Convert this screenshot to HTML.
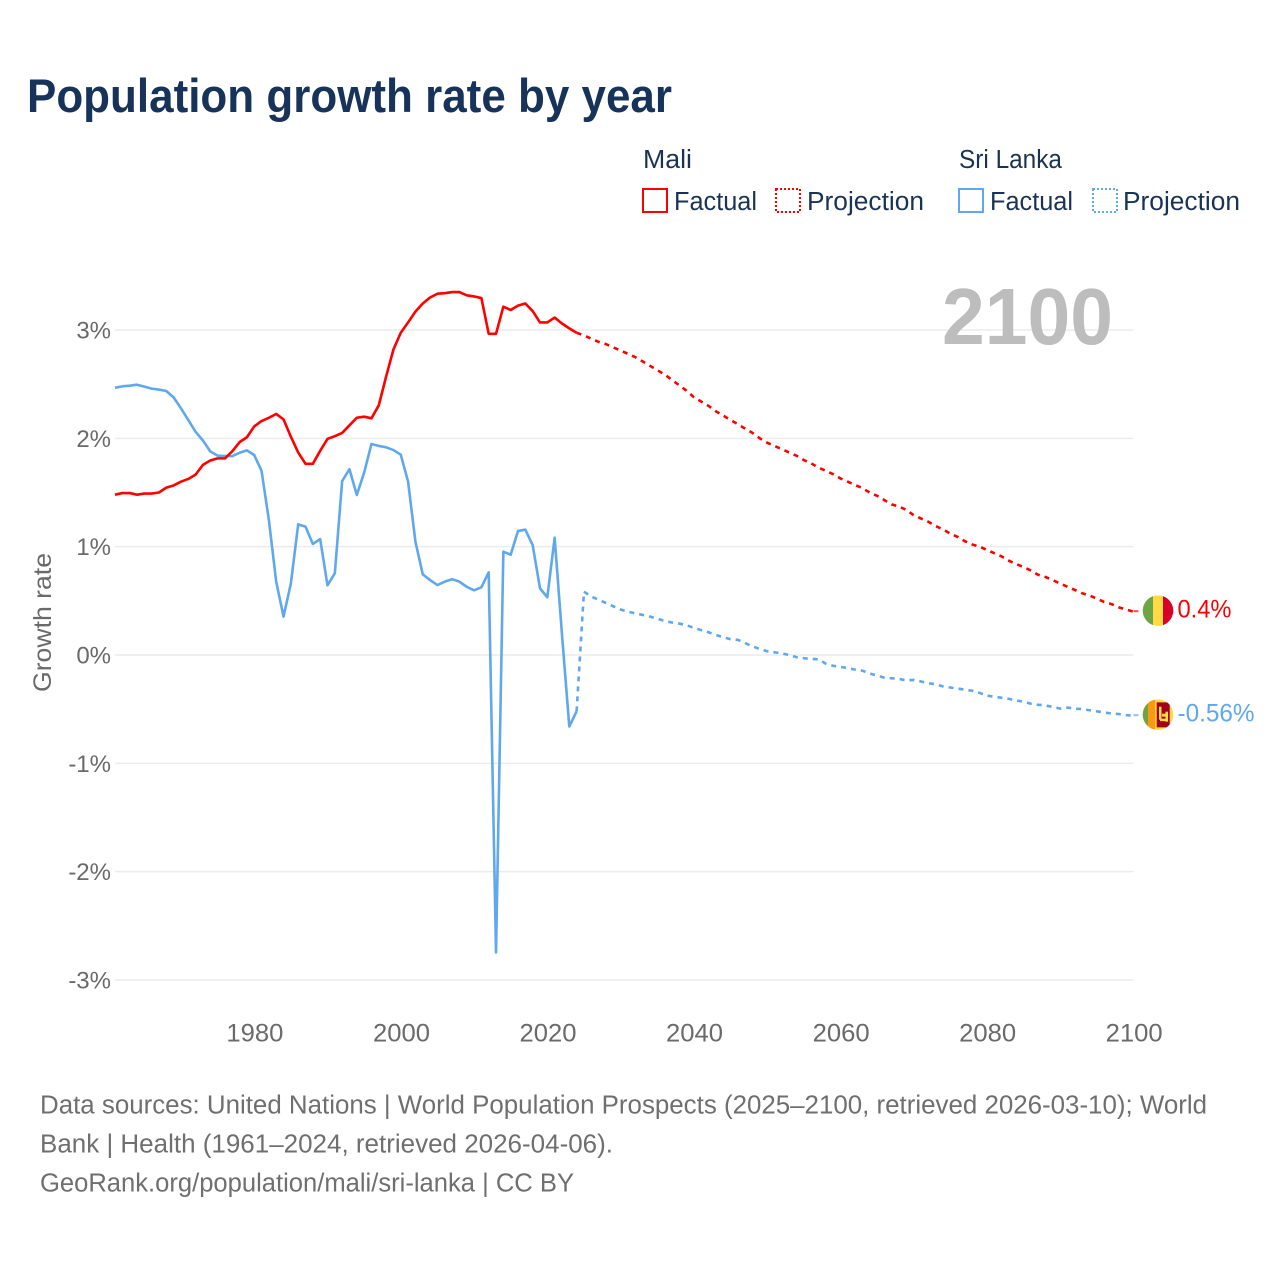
<!DOCTYPE html>
<html lang="en">
<head>
<meta charset="utf-8">
<title>Population growth rate by year</title>
<style>
  html, body { margin: 0; padding: 0; background: #fff; width: 1280px; height: 1280px; overflow: hidden; }
  svg { display: block; font-family: "Liberation Sans", Arial, sans-serif; }
  .legend-text { font-size: 25.5px; fill: #1a3354; }
  .foot { font-size: 25.5px; fill: #6f6f6f; }
  .tick { font-size: 24px; fill: #6a6a6a; }
</style>
</head>
<body>
<svg id="chart" xmlns="http://www.w3.org/2000/svg" width="1280" height="1280" viewBox="0 0 1280 1280">
  <defs>
    <clipPath id="flag-clip"><circle cx="0" cy="0" r="15.3"></circle></clipPath>
  </defs>
  <rect x="0" y="0" width="1280" height="1280" fill="#ffffff"></rect>
  <text x="27" y="112" font-size="47" font-weight="700" fill="#18335a" textLength="645" lengthAdjust="spacingAndGlyphs">Population growth rate by year</text>

  <g>
    <text class="legend-text" x="643" y="168" textLength="49" lengthAdjust="spacingAndGlyphs">Mali</text>
    <rect x="643" y="189" width="24" height="23" fill="none" stroke="#ff0000" stroke-width="2"></rect>
    <text class="legend-text" x="674" y="210" textLength="83" lengthAdjust="spacingAndGlyphs">Factual</text>
    <rect x="776" y="189" width="24" height="23" fill="none" stroke="#ff0000" stroke-width="2" stroke-dasharray="2 2"></rect>
    <text class="legend-text" x="807" y="210" textLength="117" lengthAdjust="spacingAndGlyphs">Projection</text>
    <text class="legend-text" x="959" y="168" textLength="103" lengthAdjust="spacingAndGlyphs">Sri Lanka</text>
    <rect x="959" y="189" width="24" height="23" fill="none" stroke="#5fa8ee" stroke-width="2"></rect>
    <text class="legend-text" x="990" y="210" textLength="83" lengthAdjust="spacingAndGlyphs">Factual</text>
    <rect x="1093" y="189" width="24" height="23" fill="none" stroke="#5fa8ee" stroke-width="2" stroke-dasharray="2 2"></rect>
    <text class="legend-text" x="1123" y="210" textLength="117" lengthAdjust="spacingAndGlyphs">Projection</text>
  </g>

  <g id="grid"></g>
  <g id="y-ticks"></g>
  <g id="x-ticks"></g>

  <text transform="translate(51,692) rotate(-90)" font-size="25" fill="#6a6a6a" textLength="139" lengthAdjust="spacingAndGlyphs">Growth rate</text>
  <text x="942" y="344" font-size="80" font-weight="700" fill="#bdbdbd" textLength="171" lengthAdjust="spacingAndGlyphs">2100</text>

  <g id="series"></g>

  <g id="flag-mali">
    <g clip-path="url(#flag-clip)">
      <rect x="-16" y="-16" width="11" height="32" fill="#6da544"></rect>
      <rect x="-5" y="-16" width="10" height="32" fill="#ffda44"></rect>
      <rect x="5" y="-16" width="11" height="32" fill="#d80027"></rect>
    </g>
  </g>
  <g id="flag-sri-lanka">
    <g clip-path="url(#flag-clip)">
      <rect x="-16" y="-16" width="32" height="32" fill="#ffda44"></rect>
      <rect x="-16" y="-16" width="6" height="32" fill="#6da544"></rect>
      <rect x="-10" y="-16" width="7" height="32" fill="#ff9811"></rect>
      <rect x="-1.3" y="-12.3" width="13" height="25" fill="#a2001d"></rect>
      <rect x="1" y="-8" width="2.5" height="13" fill="#ffda44"></rect>
      <rect x="2" y="4" width="7" height="2.5" fill="#ffda44"></rect>
      <rect x="4" y="-1" width="6" height="3" fill="#ffda44"></rect>
      <rect x="7.5" y="-3" width="2.5" height="10" fill="#ffda44"></rect>
    </g>
  </g>
  <g id="end-labels"></g>

  <g>
    <text class="foot" x="40" y="1113.5" textLength="1167" lengthAdjust="spacingAndGlyphs">Data sources: United Nations | World Population Prospects (2025–2100, retrieved 2026-03-10); World</text>
    <text class="foot" x="40" y="1152.5" textLength="573" lengthAdjust="spacingAndGlyphs">Bank | Health (1961–2024, retrieved 2026-04-06).</text>
    <text class="foot" x="40" y="1191.5" textLength="534" lengthAdjust="spacingAndGlyphs">GeoRank.org/population/mali/sri-lanka | CC BY</text>
  </g>
</svg>

<script>
const yTickValues = [3, 2, 1, 0, -1, -2, -3];
const yTickLabels = ["3%", "2%", "1%", "0%", "-1%", "-2%", "-3%"];
const xTickValues = [1980, 2000, 2020, 2040, 2060, 2080, 2100];
const xTickLabels = ["1980", "2000", "2020", "2040", "2060", "2080", "2100"];

const factualYears = [1961,1962,1963,1964,1965,1966,1967,1968,1969,1970,1971,1972,1973,1974,1975,1976,1977,1978,1979,1980,1981,1982,1983,1984,1985,1986,1987,1988,1989,1990,1991,1992,1993,1994,1995,1996,1997,1998,1999,2000,2001,2002,2003,2004,2005,2006,2007,2008,2009,2010,2011,2012,2013,2014,2015,2016,2017,2018,2019,2020,2021,2022,2023,2024];
const projectionYears = [2024,2025,2026,2027,2028,2029,2030,2031,2032,2033,2034,2035,2036,2037,2038,2039,2040,2041,2042,2043,2044,2045,2046,2047,2048,2049,2050,2051,2052,2053,2054,2055,2056,2057,2058,2059,2060,2061,2062,2063,2064,2065,2066,2067,2068,2069,2070,2071,2072,2073,2074,2075,2076,2077,2078,2079,2080,2081,2082,2083,2084,2085,2086,2087,2088,2089,2090,2091,2092,2093,2094,2095,2096,2097,2098,2099,2100];

const maliFactual = [1.48,1.495,1.495,1.48,1.49,1.49,1.50,1.545,1.565,1.60,1.625,1.665,1.755,1.795,1.815,1.815,1.88,1.965,2.01,2.11,2.16,2.19,2.225,2.175,2.015,1.87,1.765,1.765,1.885,1.995,2.02,2.05,2.12,2.19,2.20,2.185,2.305,2.57,2.82,2.975,3.07,3.17,3.245,3.30,3.335,3.34,3.35,3.35,3.32,3.31,3.295,2.965,2.965,3.215,3.185,3.225,3.245,3.175,3.07,3.07,3.115,3.06,3.015,2.975];
const maliProjection = [2.975,2.95,2.92,2.89,2.87,2.84,2.81,2.78,2.75,2.71,2.67,2.63,2.59,2.54,2.49,2.44,2.38,2.34,2.30,2.25,2.21,2.17,2.13,2.09,2.05,2.00,1.96,1.93,1.90,1.87,1.84,1.80,1.77,1.73,1.70,1.67,1.63,1.60,1.57,1.54,1.50,1.47,1.43,1.39,1.37,1.34,1.29,1.26,1.23,1.19,1.16,1.12,1.09,1.05,1.02,1.00,0.97,0.94,0.91,0.87,0.84,0.81,0.78,0.74,0.72,0.69,0.66,0.63,0.60,0.57,0.55,0.52,0.49,0.47,0.44,0.42,0.40];

const sriLankaFactual = [2.467,2.48,2.486,2.495,2.477,2.459,2.45,2.437,2.378,2.277,2.17,2.06,1.98,1.88,1.84,1.837,1.835,1.867,1.889,1.846,1.70,1.246,0.677,0.354,0.66,1.206,1.185,1.025,1.07,0.643,0.754,1.606,1.715,1.477,1.683,1.948,1.93,1.917,1.892,1.849,1.60,1.046,0.745,0.692,0.646,0.677,0.70,0.677,0.63,0.597,0.625,0.763,-2.745,0.954,0.926,1.145,1.157,1.015,0.615,0.533,1.083,0.19,-0.66,-0.52];
const sriLankaProjection = [-0.52,0.585,0.54,0.51,0.48,0.45,0.42,0.40,0.385,0.37,0.355,0.335,0.315,0.30,0.29,0.275,0.25,0.23,0.21,0.185,0.165,0.145,0.14,0.11,0.08,0.055,0.035,0.025,0.015,0.0,-0.02,-0.03,-0.035,-0.04,-0.08,-0.10,-0.11,-0.12,-0.135,-0.145,-0.17,-0.19,-0.21,-0.215,-0.22,-0.235,-0.23,-0.245,-0.26,-0.27,-0.29,-0.30,-0.31,-0.32,-0.33,-0.35,-0.375,-0.385,-0.395,-0.405,-0.42,-0.43,-0.45,-0.46,-0.465,-0.48,-0.495,-0.485,-0.495,-0.50,-0.51,-0.52,-0.53,-0.54,-0.545,-0.555,-0.56];

const endLabelMali = "0.4%";
const endLabelSriLanka = "-0.56%";

const NS = "http://www.w3.org/2000/svg";
const RED = "#ff0000";
const BLUE = "#5fa8ee";
function xScale(year) { return 115 + (year - 1961) * (1133.5 - 115) / 139; }
function yScale(value) { return 655 - value * 108.33; }
function pathFrom(years, values) {
  return values.map(function (v, i) {
    return (i ? "L" : "M") + xScale(years[i]).toFixed(2) + " " + yScale(v).toFixed(2);
  }).join("");
}
function node(tag, parent) {
  const el = document.createElementNS(NS, tag);
  document.getElementById(parent).appendChild(el);
  return el;
}

yTickValues.forEach(function (v, i) {
  const line = node("line", "grid");
  
  
  line.setAttribute("x1", 115);
  line.setAttribute("x2", xScale(2100));
  line.setAttribute("y1", yScale(v));
  line.setAttribute("y2", yScale(v));
  line.setAttribute("stroke", "#ececec");
  line.setAttribute("stroke-width", 1.5);

  const label = node("text", "y-ticks");
  
  
  label.setAttribute("class", "tick");
  label.setAttribute("x", 111);
  label.setAttribute("y", yScale(v) + 8.5);
  label.setAttribute("text-anchor", "end");
  label.textContent = yTickLabels[i];
});

xTickValues.forEach(function (v, i) {
  const label = node("text", "x-ticks");
  
  
  label.setAttribute("class", "tick");
  label.setAttribute("x", xScale(v) + 0.7);
  label.setAttribute("y", 1041.5);
  label.setAttribute("text-anchor", "middle");
  label.setAttribute("textLength", "57");
  label.setAttribute("lengthAdjust", "spacingAndGlyphs");
  label.setAttribute("style", "font-size:25px");
  label.textContent = xTickLabels[i];
});

function drawLine(years, values, color, dashed, name) {
  const p = node("path", "series");
  
  
  p.setAttribute("d", pathFrom(years, values));
  p.setAttribute("fill", "none");
  p.setAttribute("stroke", color);
  p.setAttribute("stroke-width", 2.6);
  p.setAttribute("stroke-linejoin", "round");
  if (dashed) { p.setAttribute("stroke-dasharray", "5 5"); }
}
drawLine(factualYears, sriLankaFactual, BLUE, false, "sri-lanka-factual-line");
drawLine(projectionYears, sriLankaProjection, BLUE, true, "sri-lanka-projection-line");
drawLine(factualYears, maliFactual, RED, false, "mali-factual-line");
drawLine(projectionYears, maliProjection, RED, true, "mali-projection-line");

function finishSeries(values, color, flagId, labelText, labelWidth, labelName) {
  const last = values[values.length - 1];
  const x = xScale(2100);
  const y = yScale(last);

  const conn = node("line", "series");
  
  
  conn.setAttribute("x1", x);
  conn.setAttribute("x2", x + 10);
  conn.setAttribute("y1", y - 0.5);
  conn.setAttribute("y2", y - 0.5);
  conn.setAttribute("stroke", color);
  conn.setAttribute("stroke-width", 2);
  conn.setAttribute("stroke-opacity", 0.7);
  conn.setAttribute("stroke-dasharray", "5 5");

  document.getElementById(flagId).setAttribute("transform", "translate(" + (x + 24.5) + " " + (y - 1) + ")");

  const label = node("text", "end-labels");
  
  
  label.setAttribute("x", x + 44);
  label.setAttribute("y", y + 6);
  label.setAttribute("font-size", "25");
  label.setAttribute("fill", color);
  label.setAttribute("textLength", labelWidth);
  label.setAttribute("lengthAdjust", "spacingAndGlyphs");
  label.textContent = labelText;
}
finishSeries(maliProjection, RED, "flag-mali", endLabelMali, 54, "end-label-mali");
finishSeries(sriLankaProjection, BLUE, "flag-sri-lanka", endLabelSriLanka, 77, "end-label-sri-lanka");
</script>
</body>
</html>
